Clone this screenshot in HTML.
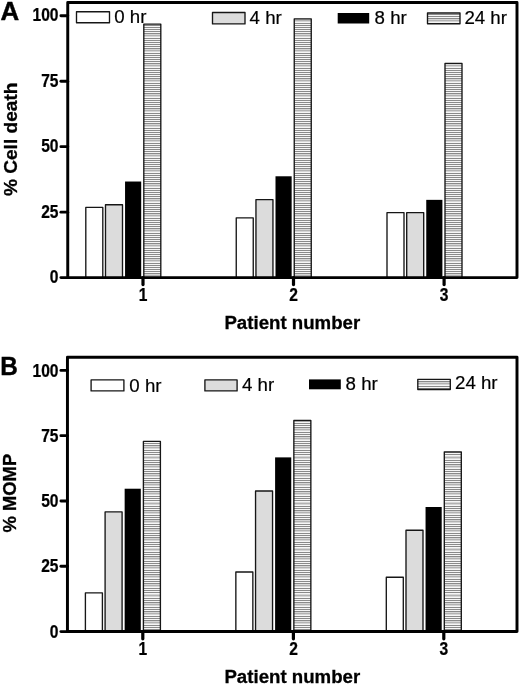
<!DOCTYPE html>
<html lang="en">
<head>
<meta charset="utf-8">
<title>Figure</title>
<style>
html,body{margin:0;padding:0;background:#fff;}
body{width:520px;height:685px;overflow:hidden;}
svg{display:block;will-change:transform;}
text{font-family:"Liberation Sans", Arial, Helvetica, sans-serif;fill:#000;}
.tk{font-size:17.6px;font-weight:bold;stroke:#000;stroke-width:0.25px;}
.ax{font-size:19.1px;font-weight:bold;stroke:#000;stroke-width:0.3px;}
.pl{font-size:25.9px;font-weight:bold;stroke:#000;stroke-width:0.4px;}
.lg{font-size:18.7px;stroke:#000;stroke-width:0.2px;}
</style>
</head>
<body>
<svg width="520" height="685" viewBox="0 0 520 685">
<defs>
<pattern id="hzA" x="0" y="4" width="24" height="15" patternUnits="userSpaceOnUse"><rect x="0" y="0" width="24" height="15" fill="#c4c4c4"/><rect x="0" y="0" width="24" height="1" fill="#d6d6d6"/><rect x="0" y="1" width="24" height="1" fill="#b2b2b2"/><rect x="0" y="2" width="24" height="1" fill="#d6d6d6"/><rect x="0" y="3" width="24" height="1" fill="#f6f6f6"/><rect x="0" y="4" width="24" height="1" fill="#8a8a8a"/><rect x="0" y="5" width="24" height="1" fill="#f6f6f6"/><rect x="0" y="6" width="24" height="1" fill="#8a8a8a"/><rect x="0" y="7" width="24" height="1" fill="#f6f6f6"/><rect x="0" y="8" width="24" height="1" fill="#8a8a8a"/><rect x="0" y="9" width="24" height="1" fill="#f6f6f6"/><rect x="0" y="10" width="24" height="1" fill="#8a8a8a"/><rect x="0" y="11" width="24" height="1" fill="#f6f6f6"/><rect x="0" y="12" width="24" height="1" fill="#8a8a8a"/><rect x="0" y="13" width="24" height="1" fill="#f6f6f6"/><rect x="0" y="14" width="24" height="1" fill="#8a8a8a"/></pattern>
<pattern id="hzB" x="0" y="14" width="24" height="46" patternUnits="userSpaceOnUse"><rect x="0" y="0" width="24" height="46" fill="#c4c4c4"/><rect x="0" y="0" width="24" height="1" fill="#d6d6d6"/><rect x="0" y="1" width="24" height="1" fill="#b2b2b2"/><rect x="0" y="2" width="24" height="1" fill="#d6d6d6"/><rect x="0" y="3" width="24" height="1" fill="#f6f6f6"/><rect x="0" y="4" width="24" height="1" fill="#8a8a8a"/><rect x="0" y="5" width="24" height="1" fill="#f6f6f6"/><rect x="0" y="6" width="24" height="1" fill="#8a8a8a"/><rect x="0" y="7" width="24" height="1" fill="#f6f6f6"/><rect x="0" y="8" width="24" height="1" fill="#8a8a8a"/><rect x="0" y="9" width="24" height="1" fill="#d6d6d6"/><rect x="0" y="10" width="24" height="1" fill="#b2b2b2"/><rect x="0" y="11" width="24" height="1" fill="#d6d6d6"/><rect x="0" y="12" width="24" height="1" fill="#f6f6f6"/><rect x="0" y="13" width="24" height="1" fill="#8a8a8a"/><rect x="0" y="14" width="24" height="1" fill="#f6f6f6"/><rect x="0" y="15" width="24" height="1" fill="#8a8a8a"/><rect x="0" y="16" width="24" height="1" fill="#f6f6f6"/><rect x="0" y="17" width="24" height="1" fill="#8a8a8a"/><rect x="0" y="18" width="24" height="1" fill="#d6d6d6"/><rect x="0" y="19" width="24" height="1" fill="#b2b2b2"/><rect x="0" y="20" width="24" height="1" fill="#d6d6d6"/><rect x="0" y="21" width="24" height="1" fill="#f6f6f6"/><rect x="0" y="22" width="24" height="1" fill="#8a8a8a"/><rect x="0" y="23" width="24" height="1" fill="#f6f6f6"/><rect x="0" y="24" width="24" height="1" fill="#8a8a8a"/><rect x="0" y="25" width="24" height="1" fill="#f6f6f6"/><rect x="0" y="26" width="24" height="1" fill="#8a8a8a"/><rect x="0" y="27" width="24" height="1" fill="#f6f6f6"/><rect x="0" y="28" width="24" height="1" fill="#d6d6d6"/><rect x="0" y="29" width="24" height="1" fill="#b2b2b2"/><rect x="0" y="30" width="24" height="1" fill="#d6d6d6"/><rect x="0" y="31" width="24" height="1" fill="#f6f6f6"/><rect x="0" y="32" width="24" height="1" fill="#8a8a8a"/><rect x="0" y="33" width="24" height="1" fill="#f6f6f6"/><rect x="0" y="34" width="24" height="1" fill="#8a8a8a"/><rect x="0" y="35" width="24" height="1" fill="#f6f6f6"/><rect x="0" y="36" width="24" height="1" fill="#8a8a8a"/><rect x="0" y="37" width="24" height="1" fill="#d6d6d6"/><rect x="0" y="38" width="24" height="1" fill="#b2b2b2"/><rect x="0" y="39" width="24" height="1" fill="#d6d6d6"/><rect x="0" y="40" width="24" height="1" fill="#f6f6f6"/><rect x="0" y="41" width="24" height="1" fill="#8a8a8a"/><rect x="0" y="42" width="24" height="1" fill="#f6f6f6"/><rect x="0" y="43" width="24" height="1" fill="#8a8a8a"/><rect x="0" y="44" width="24" height="1" fill="#f6f6f6"/><rect x="0" y="45" width="24" height="1" fill="#8a8a8a"/></pattern>
</defs>
<rect x="0" y="0" width="520" height="685" fill="#fff"/>
<rect x="85.80" y="207.40" width="17" height="70.70" fill="#fff" stroke="#161616" stroke-width="1.35" stroke-linejoin="round"/>
<rect x="105.50" y="204.78" width="17" height="73.32" fill="#dcdcdc" stroke="#161616" stroke-width="1.35" stroke-linejoin="round"/>
<rect x="125.05" y="181.52" width="16.15" height="96.08" fill="#000"/>
<rect x="143.80" y="24.11" width="17" height="253.99" fill="url(#hzA)" stroke="#161616" stroke-width="1.35" stroke-linejoin="round"/>
<rect x="236.25" y="217.87" width="17" height="60.23" fill="#fff" stroke="#161616" stroke-width="1.35" stroke-linejoin="round"/>
<rect x="255.95" y="199.55" width="17" height="78.56" fill="#dcdcdc" stroke="#161616" stroke-width="1.35" stroke-linejoin="round"/>
<rect x="275.50" y="176.28" width="16.15" height="101.32" fill="#000"/>
<rect x="294.25" y="18.87" width="17" height="259.23" fill="url(#hzA)" stroke="#161616" stroke-width="1.35" stroke-linejoin="round"/>
<rect x="387.00" y="212.64" width="17" height="65.46" fill="#fff" stroke="#161616" stroke-width="1.35" stroke-linejoin="round"/>
<rect x="406.70" y="212.64" width="17" height="65.46" fill="#dcdcdc" stroke="#161616" stroke-width="1.35" stroke-linejoin="round"/>
<rect x="426.25" y="199.85" width="16.15" height="77.76" fill="#000"/>
<rect x="445.00" y="63.38" width="17" height="214.72" fill="url(#hzA)" stroke="#161616" stroke-width="1.35" stroke-linejoin="round"/>
<path d="M67.75 277.6 V2.5 H517.0 V277.6 Z" fill="none" stroke="#000" stroke-width="2.95" stroke-linejoin="round"/>
<path d="M60.9 277.6 H67.75" fill="none" stroke="#000" stroke-width="2.85" stroke-linecap="round"/>
<path d="M60.9 212.14 H67.75" stroke="#000" stroke-width="2.85" stroke-linecap="round"/>
<path d="M60.9 146.68 H67.75" stroke="#000" stroke-width="2.85" stroke-linecap="round"/>
<path d="M60.9 81.21 H67.75" stroke="#000" stroke-width="2.85" stroke-linecap="round"/>
<path d="M60.9 15.75 H67.75" stroke="#000" stroke-width="2.85" stroke-linecap="round"/>
<text transform="translate(58.45 283.10) scale(0.885 1)" text-anchor="end" class="tk">0</text>
<text transform="translate(58.45 217.64) scale(0.885 1)" text-anchor="end" class="tk">25</text>
<text transform="translate(58.45 152.18) scale(0.885 1)" text-anchor="end" class="tk">50</text>
<text transform="translate(58.45 86.71) scale(0.885 1)" text-anchor="end" class="tk">75</text>
<text transform="translate(58.45 21.25) scale(0.885 1)" text-anchor="end" class="tk">100</text>
<path d="M143.0 277.6 V284.6" stroke="#000" stroke-width="3.2" stroke-linecap="round"/>
<text transform="translate(143.1 300.70) scale(0.885 1)" text-anchor="middle" class="tk">1</text>
<path d="M293.5 277.6 V284.6" stroke="#000" stroke-width="3.2" stroke-linecap="round"/>
<text transform="translate(293.6 300.70) scale(0.885 1)" text-anchor="middle" class="tk">2</text>
<path d="M444.1 277.6 V284.6" stroke="#000" stroke-width="3.2" stroke-linecap="round"/>
<text transform="translate(444.20000000000005 300.70) scale(0.885 1)" text-anchor="middle" class="tk">3</text>
<text transform="translate(292.3 328.70) scale(0.977 1)" text-anchor="middle" class="ax">Patient number</text>
<text transform="translate(17.0 139.3) rotate(-90) scale(1.0 1)" text-anchor="middle" class="ax">% Cell death</text>
<text transform="translate(0.4 19.8) scale(1.0 1)" class="pl">A</text>
<rect x="76.5" y="11.7" width="33" height="11" fill="#fff" stroke="#161616" stroke-width="1.35" stroke-linejoin="round"/>
<text x="114.2" y="23.2" class="lg">0 hr</text>
<rect x="212.5" y="12.5" width="32.5" height="11.4" fill="#dcdcdc" stroke="#161616" stroke-width="1.35" stroke-linejoin="round"/>
<text x="249.6" y="24.0" class="lg">4 hr</text>
<rect x="337.7" y="13.0" width="31.5" height="10.5" fill="#000"/>
<text x="374.6" y="23.6" class="lg">8 hr</text>
<rect x="427.5" y="13.0" width="32.5" height="10.7" fill="url(#hzA)" stroke="#161616" stroke-width="1.35" stroke-linejoin="round"/>
<text x="464.4" y="24.2" class="lg">24 hr</text>
<rect x="85.40" y="592.88" width="17" height="39.17" fill="#fff" stroke="#161616" stroke-width="1.35" stroke-linejoin="round"/>
<rect x="105.10" y="511.92" width="17" height="120.13" fill="#dcdcdc" stroke="#161616" stroke-width="1.35" stroke-linejoin="round"/>
<rect x="124.65" y="488.72" width="16.15" height="142.83" fill="#000"/>
<rect x="143.40" y="441.41" width="17" height="190.64" fill="url(#hzB)" stroke="#161616" stroke-width="1.35" stroke-linejoin="round"/>
<rect x="235.85" y="571.99" width="17" height="60.06" fill="#fff" stroke="#161616" stroke-width="1.35" stroke-linejoin="round"/>
<rect x="255.55" y="491.03" width="17" height="141.02" fill="#dcdcdc" stroke="#161616" stroke-width="1.35" stroke-linejoin="round"/>
<rect x="275.10" y="457.38" width="16.15" height="174.17" fill="#000"/>
<rect x="293.85" y="420.52" width="17" height="211.53" fill="url(#hzB)" stroke="#161616" stroke-width="1.35" stroke-linejoin="round"/>
<rect x="386.30" y="577.21" width="17" height="54.84" fill="#fff" stroke="#161616" stroke-width="1.35" stroke-linejoin="round"/>
<rect x="406.00" y="530.20" width="17" height="101.85" fill="#dcdcdc" stroke="#161616" stroke-width="1.35" stroke-linejoin="round"/>
<rect x="425.55" y="507.00" width="16.15" height="124.55" fill="#000"/>
<rect x="444.30" y="451.86" width="17" height="180.19" fill="url(#hzB)" stroke="#161616" stroke-width="1.35" stroke-linejoin="round"/>
<path d="M67.45 631.55 V357.25 H517.0 V631.55 Z" fill="none" stroke="#000" stroke-width="2.95" stroke-linejoin="round"/>
<path d="M60.9 631.55 H67.45" fill="none" stroke="#000" stroke-width="2.85" stroke-linecap="round"/>
<path d="M60.9 566.26 H67.45" stroke="#000" stroke-width="2.85" stroke-linecap="round"/>
<path d="M60.9 500.97 H67.45" stroke="#000" stroke-width="2.85" stroke-linecap="round"/>
<path d="M60.9 435.69 H67.45" stroke="#000" stroke-width="2.85" stroke-linecap="round"/>
<path d="M60.9 370.40 H67.45" stroke="#000" stroke-width="2.85" stroke-linecap="round"/>
<text transform="translate(58.45 637.65) scale(0.885 1)" text-anchor="end" class="tk">0</text>
<text transform="translate(58.45 572.36) scale(0.885 1)" text-anchor="end" class="tk">25</text>
<text transform="translate(58.45 507.07) scale(0.885 1)" text-anchor="end" class="tk">50</text>
<text transform="translate(58.45 441.79) scale(0.885 1)" text-anchor="end" class="tk">75</text>
<text transform="translate(58.45 376.50) scale(0.885 1)" text-anchor="end" class="tk">100</text>
<path d="M142.8 631.55 V638.8499999999999" stroke="#000" stroke-width="3.2" stroke-linecap="round"/>
<text transform="translate(142.9 655.15) scale(0.885 1)" text-anchor="middle" class="tk">1</text>
<path d="M293.4 631.55 V638.8499999999999" stroke="#000" stroke-width="3.2" stroke-linecap="round"/>
<text transform="translate(293.5 655.15) scale(0.885 1)" text-anchor="middle" class="tk">2</text>
<path d="M443.8 631.55 V638.8499999999999" stroke="#000" stroke-width="3.2" stroke-linecap="round"/>
<text transform="translate(443.90000000000003 655.15) scale(0.885 1)" text-anchor="middle" class="tk">3</text>
<text transform="translate(292.3 682.65) scale(0.977 1)" text-anchor="middle" class="ax">Patient number</text>
<text transform="translate(16.4 493.2) rotate(-90) scale(0.965 1)" text-anchor="middle" class="ax">% MOMP</text>
<text transform="translate(0.2 374.5) scale(0.94 1)" class="pl">B</text>
<rect x="91.1" y="379.9" width="32.8" height="11" fill="#fff" stroke="#161616" stroke-width="1.35" stroke-linejoin="round"/>
<text x="129.3" y="391.8" class="lg">0 hr</text>
<rect x="204.9" y="379.9" width="32.2" height="11" fill="#dcdcdc" stroke="#161616" stroke-width="1.35" stroke-linejoin="round"/>
<text x="242.0" y="390.8" class="lg">4 hr</text>
<rect x="309" y="379.4" width="31.8" height="9.9" fill="#000"/>
<text x="345.6" y="390.0" class="lg">8 hr</text>
<rect x="417.8" y="379.3" width="32.5" height="10.2" fill="url(#hzB)" stroke="#161616" stroke-width="1.35" stroke-linejoin="round"/>
<text x="455.0" y="389.3" class="lg">24 hr</text>
</svg>
</body>
</html>
